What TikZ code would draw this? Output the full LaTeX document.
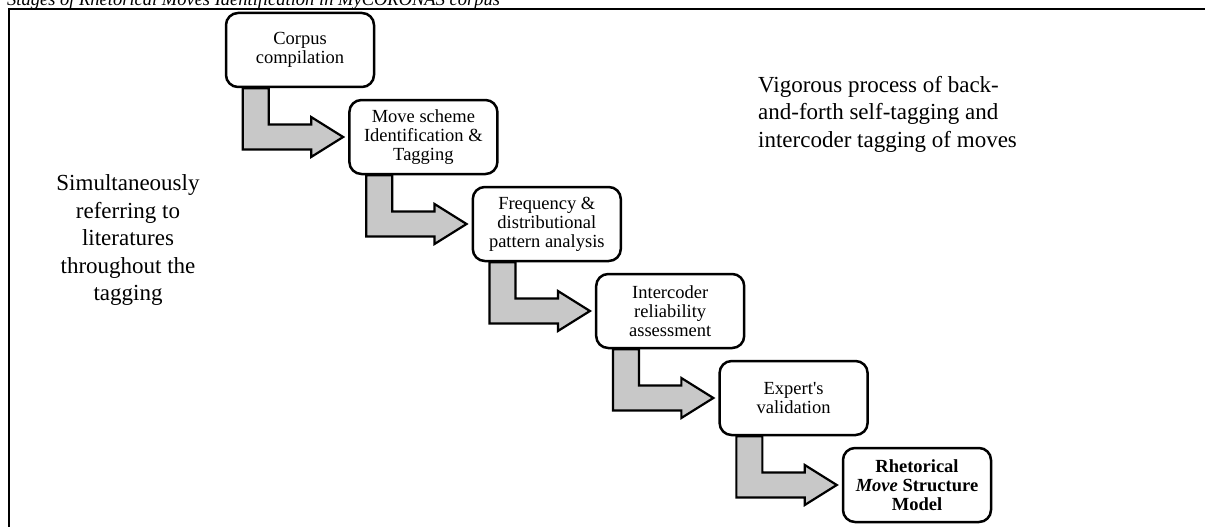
\documentclass[tikz,border=0pt]{standalone}
\usepackage{fontspec}
\setmainfont{Liberation Serif}
\definecolor{arrowgray}{RGB}{200,200,200}
\tikzset{
  stagebox/.style={draw, line width=2.5pt, rounded corners=12pt, fill=white,
    minimum width=148pt, minimum height=74pt, align=center, inner sep=2pt,
    font=\fontsize{18.5}{19}\selectfont},
  stagearrow/.style={draw, line width=2.2pt, fill=arrowgray},
  sidenote/.style={align=center, inner sep=0pt, font=\fontsize{23}{27.5}\selectfont}
}
\begin{document}
\begin{tikzpicture}[x=1pt,y=-1pt]
    \useasboundingbox (0,0) rectangle (1205,527);
    \node [anchor=base west, inner sep=0pt, font=\fontsize{18.5}{19}\selectfont\itshape] (title) at (7,6) {Stages of Rhetorical Moves Identification in MyCORONAS corpus};
    \draw [line width=2pt] (9,560) |- (1230,9);
    \node [stagebox] (s1) at (300,50) {Corpus\\compilation};
    \node [stagebox] (s2) at (423.4,137) {Move scheme\\Identification \&\\Tagging};
    \node [stagebox] (s3) at (546.8,224) {Frequency \&\\distributional\\pattern analysis};
    \node [stagebox] (s4) at (670.2,311) {Intercoder\\reliability\\assessment};
    \node [stagebox] (s5) at (793.6,398) {Expert\textquotesingle s\\validation};
    \node [stagebox] (s6) at (917,485) {\textbf{Rhetorical}\\\textbf{\textit{Move} Structure}\\\textbf{Model}};
    \foreach \i/\j in {1/2,2/3,3/4,4/5,5/6}
      \draw [stagearrow] ([xshift=18pt]s\i.south west) |- ([xshift=-37pt,yshift=-12.5pt]s\j.west)
        -- ++(0,-7.5pt) -- ([xshift=-5pt]s\j.west) -- ([xshift=-37pt,yshift=20pt]s\j.west)
        -- ++(0,-7.5pt) -| ([xshift=44pt]s\i.south west) -- cycle;
    \node [sidenote, anchor=north west, align=left] (vig) at (758,76) {Vigorous process of back-\\and-forth self-tagging and\\intercoder tagging of moves};
    \node [sidenote] (lit) at (128,240) {Simultaneously\\referring to\\literatures\\throughout the\\tagging};
  \end{tikzpicture}
\end{document}
